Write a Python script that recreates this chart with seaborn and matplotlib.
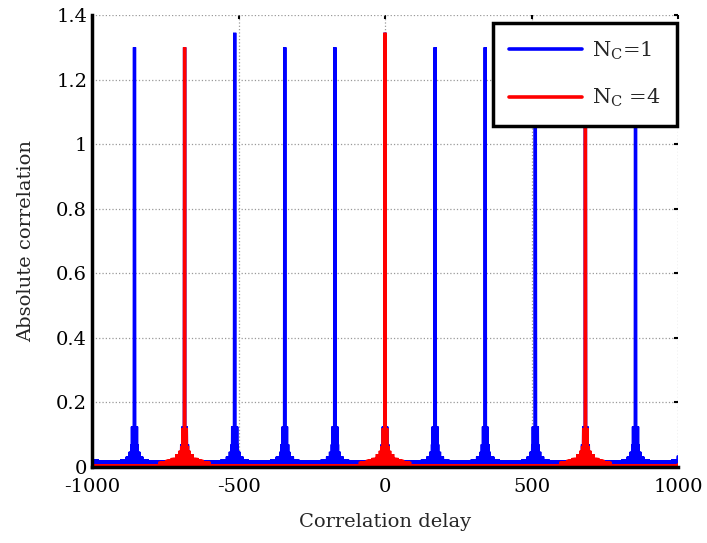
import numpy as np
import pandas as pd
import matplotlib.pyplot as plt
import seaborn as sns

# correlation delay axis (samples)
delay = np.arange(-1000, 1001)

# peak positions / heights
blue_centers = [-1026, -855, -684, -513, -342, -171, 0, 171, 342, 513, 684, 855, 1026]
blue_heights = [1.30, 1.30, 1.30, 1.345, 1.30, 1.30, 1.345, 1.30, 1.30, 1.345, 1.30, 1.30, 1.30]
red_centers = [-684, 0, 684]
red_heights = [1.30, 1.345, 1.30]

# sidelobe skirt around each peak: reach (samples) and level
blue_reach = [7, 10, 15, 26, 44]
blue_level = [0.125, 0.07, 0.047, 0.032, 0.024]
red_reach = [7, 11, 16, 26, 42, 60, 85]
red_level = [0.12, 0.065, 0.05, 0.04, 0.028, 0.022, 0.016]
blue_floor = 0.019
red_floor = 0.007
ripple = [1.0, 0.0]  # sidelobes swing between full value and zero

series_labels = [r'N$_\mathregular{C}$=1', r'N$_\mathregular{C}$ =4']
xtick_vals = [-1000, -500, 0, 500, 1000]
xtick_labels = ['-1000', '-500', '0', '500', '1000']
ytick_vals = [0, 0.2, 0.4, 0.6, 0.8, 1.0, 1.2, 1.4]
ytick_labels = ['0', '0.2', '0.4', '0.6', '0.8', '1', '1.2', '1.4']


def build(centers, heights, reach, level, floor):
    env = np.full(delay.shape, floor)
    for c in centers:
        d = np.abs(delay - c)
        for r, l in zip(reach, level):
            env[d <= r] = np.maximum(env[d <= r], l)
    y = env * np.array(ripple)[np.abs(delay) % 2]
    for c, h in zip(centers, heights):
        y[delay == c] = h
    return y


df = pd.DataFrame({
    'delay': np.concatenate([delay, delay]),
    'corr': np.concatenate([build(blue_centers, blue_heights, blue_reach, blue_level, blue_floor),
                            build(red_centers, red_heights, red_reach, red_level, red_floor)]),
    'Nc': [series_labels[0]] * len(delay) + [series_labels[1]] * len(delay),
})

sns.set_style('white')
plt.rcParams['font.family'] = ['DejaVu Serif']
plt.rcParams['mathtext.default'] = 'regular'
plt.rcParams['axes.unicode_minus'] = False

fig, ax = plt.subplots(figsize=(7.07, 5.43), dpi=100)
fig.subplots_adjust(left=92/707, right=678/707, bottom=1-467/543, top=1-15/543)

sns.lineplot(data=df, x='delay', y='corr', hue='Nc', palette=['#0000ff', '#ff0000'],
             estimator=None, sort=False, linewidth=2.4, ax=ax)
for ln in ax.get_lines():
    ln.set_solid_joinstyle('bevel')

ax.set_xlim(-1000, 1000)
ax.set_ylim(0, 1.4)
ax.set_xticks(xtick_vals)
ax.set_xticklabels(xtick_labels)
ax.set_yticks(ytick_vals)
ax.set_yticklabels(ytick_labels)
ax.set_xlabel('Correlation delay', fontsize=14, labelpad=12)
ax.set_ylabel('Absolute correlation', fontsize=14, labelpad=15)

ax.grid(True, color='0.6', linestyle=':', linewidth=0.9)
ax.set_axisbelow(True)
ax.spines['top'].set_visible(False)
ax.spines['right'].set_visible(False)
for s in ['left', 'bottom']:
    ax.spines[s].set_linewidth(2.5)
    ax.spines[s].set_color('black')
ax.tick_params(direction='in', length=3, width=1.5, top=True, right=True,
               labelsize=14, colors='black')
ax.tick_params(axis='x', pad=8)

leg = ax.legend(loc='upper right', bbox_to_anchor=(677/707, 1-23/543), bbox_transform=fig.transFigure,
                borderaxespad=0, fontsize=15, handlelength=3.5, handletextpad=0.45,
                labelspacing=1.2, borderpad=0.8, fancybox=False, edgecolor='black', framealpha=1)
leg.get_frame().set_linewidth(2.5)
for h in leg.get_lines():
    h.set_linewidth(2.6)

fig.savefig('out.png', dpi=100)
